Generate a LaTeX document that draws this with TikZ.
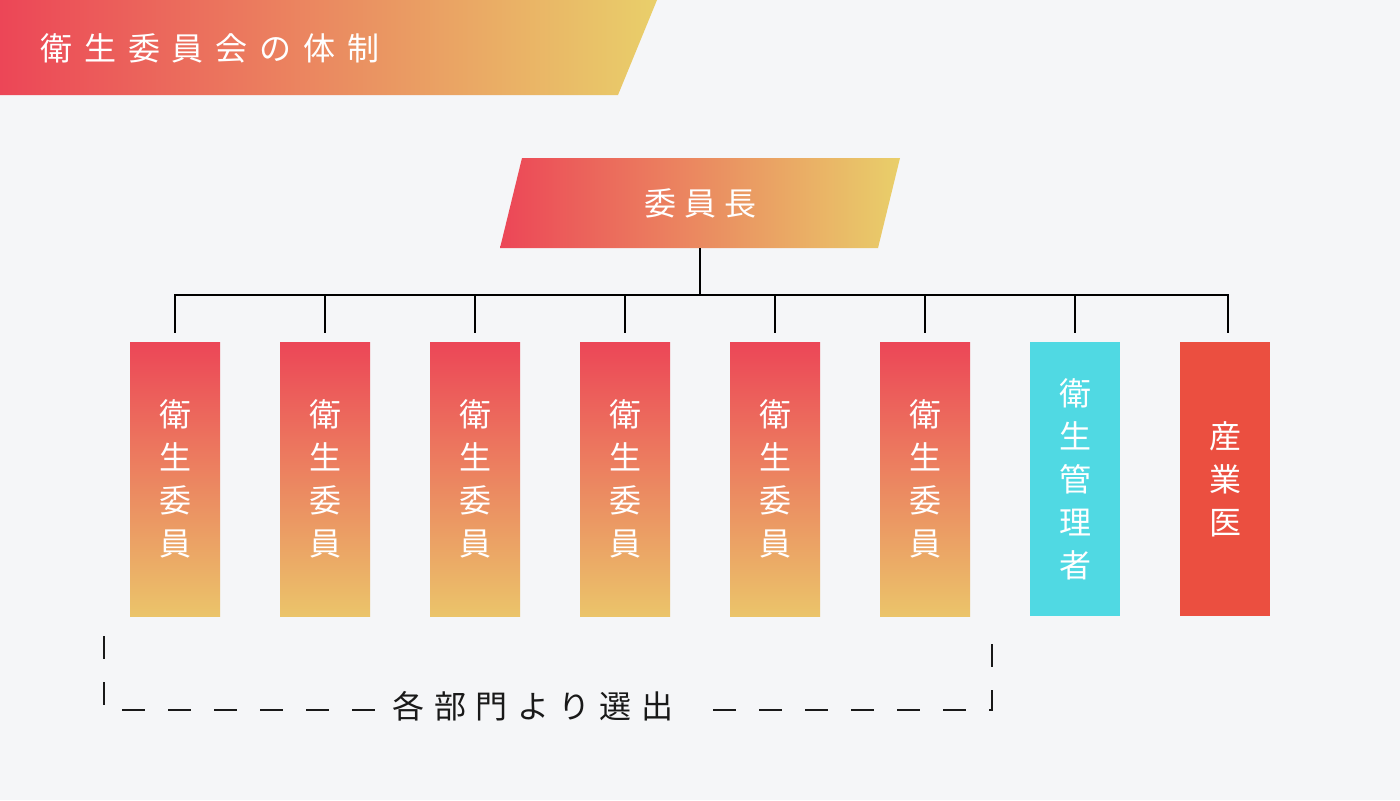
\documentclass[tikz,border=0pt]{standalone}
\usepackage{fontspec}
\newfontfamily\jpfont{Noto Sans CJK JP}
\usepackage{xcolor}
\usepackage{tikz}
\usetikzlibrary{positioning,backgrounds}

\definecolor{bg}{HTML}{F5F6F8}
\definecolor{hotred}{HTML}{EC4657}
\definecolor{warmyellow}{HTML}{E9CF6A}
\definecolor{boxbottom}{HTML}{EBC46A}
\definecolor{managercyan}{HTML}{50D9E3}
\definecolor{doctorred}{HTML}{EB4F40}

\begin{document}
\begin{tikzpicture}[
x=0.5pt,y=0.5pt,
node distance=30pt,
chief/.style={rectangle,minimum width=189pt,minimum height=45pt,inner sep=0pt,outer sep=0pt,
  text=white,font=\jpfont\fontsize{16}{19}\selectfont\addfontfeature{LetterSpace=25}},
member/.style={rectangle,minimum width=45pt,minimum height=137pt,inner sep=0pt,outer sep=0pt,align=center,
  text=white,font=\jpfont\fontsize{16}{21.5}\selectfont},
staff/.style={member,top color=hotred,bottom color=boxbottom},
link/.style={line width=0.9pt,draw=black,shorten >=4.5pt},
bracket/.style={line width=0.9pt,draw=black!90,dash pattern=on 11.5pt off 11.5pt}
]
\useasboundingbox (0,0) rectangle (1400,800);
\node[anchor=west,inner sep=0pt,text=white,font=\jpfont\fontsize{16}{19}\selectfont\addfontfeature{LetterSpace=37}] (title) at (40,752) {衛生委員会の体制};

\node[chief] (chair) at (700,597) {委員長};
\coordinate[below=23.5pt of chair] (bus);

\node[staff] (m1) at (175,321) {衛\\生\\委\\員};
\node[staff,right=of m1] (m2) {衛\\生\\委\\員};
\node[staff,right=of m2] (m3) {衛\\生\\委\\員};
\node[staff,right=of m3] (m4) {衛\\生\\委\\員};
\node[staff,right=of m4] (m5) {衛\\生\\委\\員};
\node[staff,right=of m5] (m6) {衛\\生\\委\\員};
\node[member,fill=managercyan,right=of m6] (manager) {衛\\生\\管\\理\\者};
\node[member,fill=doctorred,right=of manager] (doctor) {産\\業\\医};

\draw[line width=0.9pt] (chair) -- (bus);
\draw[link] (bus) -| (m1);
\draw[link] (bus) -| (m2);
\draw[link] (bus) -| (m3);
\draw[link] (bus) -| (m4);
\draw[link] (bus) -| (m5);
\draw[link] (bus) -| (m6);
\draw[link] (bus) -| (manager);
\draw[link] (bus) -| ([xshift=1.5pt]doctor.north);

% elected members
\node[minimum width=169pt,inner sep=0pt,text=black!90,font=\jpfont\fontsize{16}{19}\selectfont\addfontfeature{LetterSpace=30}] (pick) at (533,94) {各部門より選出};
\draw[bracket] ([xshift=5.5pt,yshift=-2pt]pick.west) -| ([xshift=-13pt,yshift=-8pt]m1.south west);
\draw[bracket] ([xshift=5.5pt,yshift=-2pt]pick.east) -| ([xshift=11pt,yshift=-8pt]m6.south east);

\begin{scope}[on background layer]
\fill[bg] (0,0) rectangle (1400,800);
% header band
\shade[left color=hotred,right color=warmyellow] (0,800) -- (657,800) -- (618,705) -- (0,705) -- cycle;
\shade[left color=hotred,right color=warmyellow] ([xshift=-5.5pt]chair.south west) -- ([xshift=-5.5pt]chair.south east)
  -- ([xshift=5.5pt]chair.north east) -- ([xshift=5.5pt]chair.north west) -- cycle;
\end{scope}
\end{tikzpicture}
\end{document}
